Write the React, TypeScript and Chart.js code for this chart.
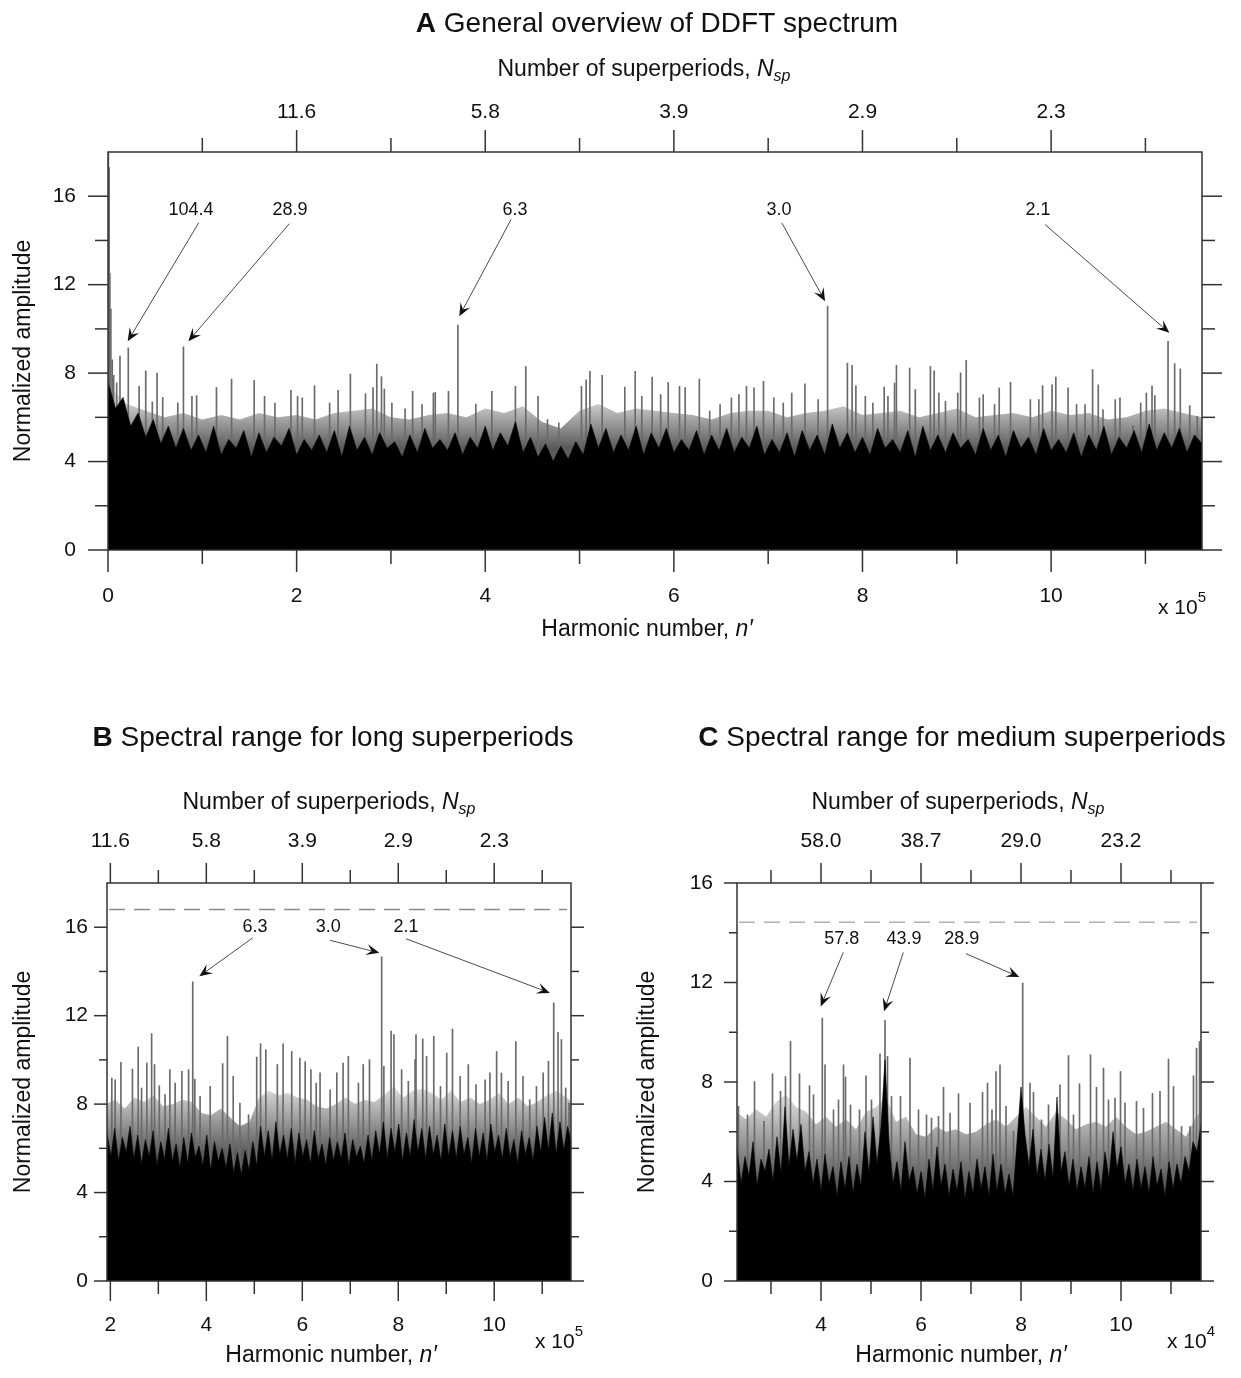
import React, { useEffect, useRef } from 'react';
import { Chart, registerables } from 'chart.js';

Chart.register(...registerables);

const FAM = '"Liberation Sans", Arial, Helvetica, sans-serif';
const fnt = (size: number, style = '', weight = '') => `${style} ${weight} ${size}px ${FAM}`.trim();

// ===================== DATA =====================
// Panel A: harmonic number n' (x 10^5), normalized amplitude
const floorAStart = 0;
const floorAStep = 0.08;
const floorA = [
  7.6, 6.4, 6.9, 5.6, 6.2, 5.1, 5.9, 4.8, 5.6, 4.6,
  5.5, 4.5, 5.2, 4.4, 5.6, 4.3, 5.0, 4.6, 5.4, 4.2,
  5.3, 4.4, 5.1, 4.7, 5.5, 4.3, 5.0, 4.5, 5.2, 4.4,
  5.4, 4.2, 5.6, 4.5, 5.1, 4.3, 5.3, 4.6, 4.9, 4.2,
  5.2, 4.4, 5.5, 4.6, 5.0, 4.5, 5.3, 4.3, 5.1, 4.6,
  5.6, 4.5, 5.3, 4.7, 5.8, 4.4, 5.1, 4.2, 4.8, 4.0,
  4.7, 4.1, 4.9, 4.3, 5.7, 4.6, 5.5, 4.4, 5.2, 4.5,
  5.6, 4.3, 5.3, 4.6, 5.5, 4.4, 5.0, 4.5, 5.4, 4.3,
  5.2, 4.5, 5.5, 4.4, 5.1, 4.6, 5.6, 4.3, 5.0, 4.4,
  5.3, 4.2, 5.4, 4.5, 5.2, 4.3, 5.7, 4.6, 5.3, 4.4,
  5.1, 4.3, 5.5, 4.6, 5.0, 4.4, 5.4, 4.2, 5.6, 4.5,
  5.2, 4.4, 5.3, 4.6, 5.0, 4.3, 5.5, 4.5, 5.2, 4.2,
  5.4, 4.6, 5.1, 4.3, 5.5, 4.5, 5.0, 4.4, 5.3, 4.2,
  5.2, 4.5, 5.6, 4.3, 5.1, 4.6, 5.4, 4.4, 5.7, 4.5,
  5.3, 4.6, 5.5, 4.4, 5.2, 4.8,
];
const hazeAStart = 0;
const hazeAStep = 0.2;
const hazeA = [
  7.4, 6.6, 6.3, 6.0, 6.2, 5.9, 6.1, 5.9, 6.2, 6.0,
  6.1, 5.9, 6.2, 6.3, 6.4, 6.0, 5.9, 6.1, 6.2, 6.0,
  6.4, 6.2, 6.5, 5.8, 5.5, 6.3, 6.6, 6.2, 6.4, 6.3,
  6.2, 6.1, 5.9, 6.2, 6.3, 6.3, 6.0, 6.2, 6.3, 6.5,
  6.1, 6.2, 6.3, 6.0, 6.2, 6.4, 6.0, 6.1, 6.2, 6.0,
  6.3, 6.1, 6.2, 5.9, 6.0, 6.3, 6.4, 6.2, 6.0,
];
const spikesA: [number, number][] = [
  [0.004, 18.5], [0.012, 17.3], [0.02, 12.5], [0.03, 10.9], [0.045, 8.6], [0.06, 7.9],
  [0.092, 7.56], [0.127, 8.77], [0.215, 9.14], [0.33, 7.4], [0.40, 8.1], [0.47, 6.7],
  [0.52, 8.0], [0.58, 6.9], [0.74, 6.65], [0.80, 9.19], [0.89, 6.95], [0.94, 6.98],
  [1.15, 7.35], [1.31, 7.73], [1.55, 7.67], [1.66, 6.95], [1.77, 6.65], [1.94, 7.22],
  [2.01, 6.95], [2.06, 6.88], [2.19, 7.43], [2.35, 6.65], [2.44, 7.22], [2.57, 7.96],
  [2.73, 7.07], [2.81, 7.35], [2.85, 8.41], [2.90, 7.84], [2.93, 7.28], [3.01, 6.65],
  [3.15, 6.38], [3.23, 7.18], [3.33, 6.58], [3.45, 7.1], [3.47, 7.13], [3.61, 7.18],
  [3.71, 10.17], [3.90, 6.6], [4.07, 7.18], [4.32, 7.4], [4.43, 8.3], [4.56, 6.95],
  [4.66, 5.9], [4.78, 5.75], [5.02, 7.4], [5.07, 7.7], [5.11, 8.08], [5.24, 7.9],
  [5.48, 7.37], [5.59, 8.08], [5.66, 6.95], [5.77, 7.82], [5.86, 7.03], [5.94, 7.58],
  [6.06, 7.4], [6.12, 7.35], [6.27, 7.73], [6.38, 6.28], [6.49, 6.58], [6.61, 6.88],
  [6.69, 7.03], [6.77, 7.4], [6.85, 7.33], [6.95, 7.63], [7.06, 6.88], [7.16, 6.65],
  [7.25, 7.1], [7.39, 7.52], [7.53, 6.8], [7.63, 11.03], [7.84, 8.45], [7.89, 8.35],
  [7.93, 7.43], [8.03, 6.95], [8.11, 6.65], [8.23, 7.37], [8.27, 6.95], [8.34, 7.55],
  [8.36, 8.35], [8.50, 8.23], [8.56, 7.26], [8.72, 8.3], [8.76, 8.1], [8.81, 7.1],
  [8.88, 6.73], [9.01, 7.1], [9.04, 8.01], [9.10, 8.58], [9.24, 6.88], [9.28, 7.03],
  [9.40, 6.58], [9.45, 7.33], [9.57, 7.58], [9.78, 6.8], [9.87, 6.8], [9.91, 7.43],
  [10.01, 7.47], [10.05, 7.82], [10.18, 7.33], [10.27, 6.58], [10.36, 6.58], [10.44, 8.16],
  [10.50, 7.47], [10.55, 6.35], [10.68, 6.8], [10.73, 6.88], [10.87, 5.63], [10.95, 6.65],
  [11.01, 7.1], [11.07, 7.43], [11.10, 6.98], [11.24, 9.44], [11.31, 8.43], [11.37, 8.19],
  [11.47, 6.53], [11.55, 6.05],
];
const annLabelsA = ['104.4', '28.9', '6.3', '3.0', '2.1'];

// Panel B: long superperiods (x 10^5)
const floorBStart = 1.93;
const floorBStep = 0.08;
const floorB = [
  6.7, 5.6, 6.9, 5.4, 6.5, 5.8, 7.0, 5.5, 6.6, 5.3,
  6.4, 5.6, 6.8, 5.2, 6.3, 5.5, 6.9, 5.4, 6.2, 5.1,
  6.5, 5.3, 6.7, 5.6, 6.1, 5.2, 6.6, 5.0, 6.3, 5.4,
  6.0, 5.1, 6.2, 4.9, 5.8, 4.8, 5.9, 5.0, 6.3, 5.2,
  7.0, 5.6, 6.8, 5.4, 7.2, 5.7, 6.6, 5.5, 6.9, 5.3,
  6.7, 5.6, 6.4, 5.3, 6.8, 5.5, 6.2, 5.2, 6.5, 5.4,
  6.3, 5.5, 6.7, 5.2, 6.4, 5.6, 6.1, 5.3, 6.6, 5.4,
  6.8, 5.7, 7.2, 5.5, 6.9, 5.8, 7.1, 5.4, 6.7, 5.6,
  7.3, 5.8, 6.9, 5.5, 7.0, 5.7, 6.6, 5.4, 7.1, 5.6,
  6.8, 5.5, 7.0, 5.7, 6.5, 5.3, 6.9, 5.6, 6.7, 5.4,
  7.1, 5.8, 6.6, 5.5, 6.9, 5.6, 6.4, 5.3, 6.8, 5.7,
  6.5, 5.4, 7.0, 5.8, 7.4, 5.9, 7.6, 5.7, 7.2, 5.9,
  7.0, 6.2,
];
const hazeBStart = 1.9;
const hazeBStep = 0.2;
const hazeB = [
  8.0, 8.2, 7.8, 8.3, 8.1, 8.4, 7.9, 8.0, 8.2, 8.1,
  7.6, 7.5, 7.8, 7.4, 7.0, 7.2, 8.3, 8.6, 8.4, 8.5,
  8.3, 8.2, 7.9, 7.8, 8.0, 8.3, 8.0, 8.2, 8.1, 8.4,
  8.8, 8.3, 8.6, 8.7, 8.5, 8.2, 8.6, 8.1, 8.3, 8.0,
  8.2, 8.5, 8.0, 8.3, 7.9, 8.1, 8.4, 8.6, 8.3, 8.0,
];
const spikesB: [number, number][] = [
  [2.03, 9.18], [2.10, 9.1], [2.22, 9.89], [2.46, 9.59], [2.58, 10.58], [2.65, 8.73],
  [2.76, 9.86], [2.86, 11.19], [2.92, 9.79], [3.02, 8.83], [3.14, 8.43], [3.24, 9.56],
  [3.35, 8.95], [3.49, 9.48], [3.63, 9.56], [3.717, 13.53], [3.76, 9.13], [3.87, 8.35],
  [4.08, 8.8], [4.34, 9.83], [4.44, 11.07], [4.56, 9.26], [4.70, 8.05], [4.88, 7.52],
  [5.05, 10.13], [5.13, 10.73], [5.24, 10.46], [5.48, 9.79], [5.60, 10.73], [5.78, 10.38],
  [5.95, 10.08], [6.06, 9.92], [6.18, 9.56], [6.29, 8.95], [6.37, 9.41], [6.58, 8.65],
  [6.72, 9.41], [6.85, 9.86], [6.96, 10.16], [7.17, 8.95], [7.27, 9.79], [7.40, 10.01],
  [7.654, 14.66], [7.70, 9.71], [7.85, 11.3], [7.91, 11.14], [8.07, 9.56], [8.21, 9.03],
  [8.35, 10.01], [8.37, 11.14], [8.51, 10.95], [8.59, 10.16], [8.74, 11.07], [8.88, 8.8],
  [9.01, 10.31], [9.13, 11.4], [9.29, 9.26], [9.46, 9.79], [9.62, 8.88], [9.81, 9.1],
  [9.91, 9.41], [10.05, 10.38], [10.15, 9.41], [10.29, 9.03], [10.45, 10.83], [10.60, 9.26],
  [10.74, 8.2], [10.88, 8.8], [11.02, 9.41], [11.13, 9.94], [11.24, 12.58], [11.33, 11.25],
  [11.40, 10.92], [11.49, 8.73], [11.56, 8.05],
];
const annLabelsB = ['6.3', '3.0', '2.1'];
const thresholdB = 16.8;

// Panel C: medium superperiods (x 10^4)
const floorCStart = 2.32;
const floorCStep = 0.08;
const floorC = [
  5.4, 3.9, 5.0, 4.2, 5.6, 3.8, 4.9, 4.4, 5.3, 4.0,
  5.8, 4.3, 7.0, 4.6, 6.1, 4.8, 6.3, 4.4, 5.2, 3.9,
  4.9, 3.6, 5.1, 3.9, 4.6, 3.4, 4.8, 3.7, 5.0, 3.5,
  4.7, 3.8, 6.0, 4.3, 6.6, 4.7, 6.2, 8.9, 5.6, 3.9,
  4.8, 3.6, 5.6, 4.0, 4.6, 3.5, 4.4, 3.3, 4.9, 3.6,
  5.4, 3.8, 4.7, 3.4, 4.5, 3.6, 4.8, 3.3, 4.4, 3.5,
  4.9, 3.7, 4.6, 3.4, 5.1, 3.6, 4.7, 3.5, 4.3, 3.4,
  5.6, 7.8, 5.9, 4.6, 6.1, 4.2, 5.3, 4.0, 5.5, 4.1,
  7.4, 4.4, 5.2, 3.8, 4.9, 3.6, 4.6, 3.7, 5.0, 3.5,
  4.8, 3.6, 5.2, 4.1, 6.0, 4.5, 5.4, 3.9, 4.7, 3.6,
  4.9, 3.7, 4.6, 3.5, 5.0, 3.8, 4.5, 3.4, 4.8, 3.7,
  4.7, 3.9, 5.0, 4.4, 5.6, 5.2, 6.3,
];
const hazeCStart = 2.3;
const hazeCStep = 0.2;
const hazeC = [
  6.8, 6.5, 6.9, 6.6, 7.2, 7.5, 7.0, 6.8, 6.3, 6.6,
  6.2, 6.5, 6.1, 6.8, 7.0, 7.4, 6.4, 6.6, 5.9, 5.8,
  6.2, 6.0, 6.1, 5.9, 6.0, 6.3, 6.5, 6.2, 6.6, 7.0,
  6.6, 6.2, 6.8, 6.5, 6.1, 6.3, 6.4, 6.2, 6.6, 6.2,
  5.9, 6.0, 6.2, 6.4, 6.1, 5.8, 6.6, 7.0,
];
const spikesC: [number, number][] = [
  [2.35, 7.02], [2.53, 6.68], [2.67, 8.02], [2.86, 6.42], [3.03, 8.33], [3.19, 7.62],
  [3.29, 8.22], [3.39, 9.63], [3.57, 8.33], [3.77, 7.85], [3.85, 7.49], [4.026, 10.57],
  [4.08, 8.69], [4.25, 6.88], [4.35, 7.28], [4.45, 8.69], [4.49, 8.2], [4.59, 7.08],
  [4.77, 6.88], [4.90, 8.25], [5.01, 7.28], [5.18, 9.13], [5.28, 10.48], [5.33, 9.03],
  [5.41, 7.42], [5.59, 7.42], [5.78, 8.96], [5.95, 6.88], [6.11, 6.68], [6.21, 6.55],
  [6.35, 6.62], [6.45, 7.79], [6.58, 6.75], [6.75, 7.53], [6.98, 7.15], [7.23, 7.58],
  [7.33, 7.96], [7.42, 6.88], [7.50, 8.42], [7.58, 8.69], [7.70, 7.02], [7.85, 6.02],
  [8.034, 11.98], [8.18, 7.96], [8.25, 7.58], [8.41, 6.48], [8.55, 7.08], [8.78, 7.89],
  [8.95, 9.06], [9.05, 6.68], [9.17, 7.93], [9.39, 9.1], [9.51, 7.79], [9.65, 8.56],
  [9.75, 7.28], [9.88, 7.35], [9.99, 8.42], [10.08, 7.15], [10.31, 7.22], [10.45, 6.95],
  [10.63, 7.55], [10.78, 7.62], [10.95, 8.92], [11.05, 7.82], [11.21, 6.21], [11.38, 6.21],
  [11.45, 8.25], [11.51, 9.36], [11.57, 9.63],
];
const annLabelsC = ['57.8', '43.9', '28.9'];
const thresholdC = 14.42;

// Tick values and labels
const bottomTicksA = [0, 2, 4, 6, 8, 10];
const bottomTicksB = [2, 4, 6, 8, 10];
const bottomTicksC = [4, 6, 8, 10];
const topTicksAB = [2, 4, 6, 8, 10];
const topLabelsA = ['11.6', '5.8', '3.9', '2.9', '2.3'];
const topLabelsB = ['11.6', '5.8', '3.9', '2.9', '2.3'];
const topTicksC = [4, 6, 8, 10];
const topLabelsC = ['58.0', '38.7', '29.0', '23.2'];
const yTicks = [0, 4, 8, 12, 16];
const yMinor = [2, 6, 10, 14];

// ===================== DRAWING HELPERS =====================
type Run = { t: string; f: string; dy?: number };

function drawRuns(ctx: CanvasRenderingContext2D, runs: Run[], x: number, y: number, align: 'center' | 'left') {
  ctx.textBaseline = 'middle';
  ctx.textAlign = 'left';
  let w = 0;
  runs.forEach((r) => {
    ctx.font = r.f;
    w += ctx.measureText(r.t).width;
  });
  let cx = align === 'center' ? x - w / 2 : x;
  runs.forEach((r) => {
    ctx.font = r.f;
    ctx.fillText(r.t, cx, y + (r.dy || 0));
    cx += ctx.measureText(r.t).width;
  });
}

function drawArrow(ctx: CanvasRenderingContext2D, x1: number, y1: number, x2: number, y2: number) {
  const dx = x2 - x1;
  const dy = y2 - y1;
  const len = Math.hypot(dx, dy);
  const ux = dx / len;
  const uy = dy / len;
  const nx = -uy;
  const ny = ux;
  const L = 13;
  const W = 5.5;
  ctx.strokeStyle = '#4a4a4a';
  ctx.lineWidth = 1;
  ctx.setLineDash([]);
  ctx.beginPath();
  ctx.moveTo(x1, y1);
  ctx.lineTo(x2 - ux * L * 0.6, y2 - uy * L * 0.6);
  ctx.stroke();
  ctx.fillStyle = '#111';
  ctx.beginPath();
  ctx.moveTo(x2, y2);
  ctx.lineTo(x2 - ux * L + nx * W, y2 - uy * L + ny * W);
  ctx.lineTo(x2 - ux * L * 0.6, y2 - uy * L * 0.6);
  ctx.lineTo(x2 - ux * L - nx * W, y2 - uy * L - ny * W);
  ctx.closePath();
  ctx.fill();
}

interface Ann { text: string; lx: number; ly: number; sx: number; sy: number; tx: number; ty: number }

interface PanelCfg {
  left: number; top: number; w: number; h: number;
  area: { l: number; t: number; r: number; b: number };
  xMin: number; xMax: number; yMax: number;
  floor: number[]; floorStart: number; floorStep: number;
  haze: number[]; hazeStart: number; hazeStep: number; hazeGrad: [number, number];
  spikes: [number, number][];
  bottomMajor: number[]; bottomMinor: number[];
  topMajor: number[]; topMinor: number[]; topLabels: string[];
  xTick: [number, number]; yTick: [number, number];
  bottomPad: number; topPad: number; leftPad: number;
  title: [string, string]; titlePos: [number, number];
  topTitlePos: [number, number]; bottomTitlePos: [number, number];
  expPos: [number, number]; exp: string;
  yTitlePos: [number, number];
  dash?: { y: number; color: string };
  anns: Ann[];
}

const TEXT = '#111';

function makePlugin(cfg: PanelCfg) {
  return {
    id: 'panelDecor',
    afterDraw(chart: any) {
      const ctx: CanvasRenderingContext2D = chart.ctx;
      const xs = chart.scales.x;
      const ys = chart.scales.y;
      const { left: L, right: R, top: T, bottom: B } = chart.chartArea;
      ctx.save();

      if (cfg.dash) {
        const py = ys.getPixelForValue(cfg.dash.y);
        ctx.strokeStyle = cfg.dash.color;
        ctx.lineWidth = 1.5;
        ctx.setLineDash([16, 9]);
        ctx.beginPath();
        ctx.moveTo(L + 2, py);
        ctx.lineTo(R - 4, py);
        ctx.stroke();
        ctx.setLineDash([]);
      }

      cfg.anns.forEach((a) => {
        drawArrow(
          ctx,
          xs.getPixelForValue(a.sx), ys.getPixelForValue(a.sy),
          xs.getPixelForValue(a.tx), ys.getPixelForValue(a.ty),
        );
        ctx.fillStyle = TEXT;
        drawRuns(ctx, [{ t: a.text, f: fnt(18) }], xs.getPixelForValue(a.lx), ys.getPixelForValue(a.ly), 'center');
      });

      ctx.strokeStyle = '#333';
      ctx.lineWidth = 1.5;
      ctx.setLineDash([]);
      ctx.strokeRect(L, T, R - L, B - T);

      const seg = (x1: number, y1: number, x2: number, y2: number) => {
        ctx.beginPath();
        ctx.moveTo(x1, y1);
        ctx.lineTo(x2, y2);
        ctx.stroke();
      };
      const [xMaj, xMin] = cfg.xTick;
      const [yMaj, yMin] = cfg.yTick;
      cfg.bottomMajor.forEach((v) => { const p = xs.getPixelForValue(v); seg(p, B, p, B + xMaj); });
      cfg.bottomMinor.forEach((v) => { const p = xs.getPixelForValue(v); seg(p, B, p, B + xMin); });
      cfg.topMajor.forEach((v) => { const p = xs.getPixelForValue(v); seg(p, T, p, T - xMaj); });
      cfg.topMinor.forEach((v) => { const p = xs.getPixelForValue(v); seg(p, T, p, T - xMin); });
      yTicks.forEach((v) => {
        const p = ys.getPixelForValue(v);
        if (v <= cfg.yMax) { seg(L, p, L - yMaj, p); seg(R, p, R + yMaj, p); }
      });
      yMinor.forEach((v) => {
        const p = ys.getPixelForValue(v);
        seg(L, p, L - yMin, p);
        seg(R, p, R + yMin, p);
      });

      ctx.fillStyle = TEXT;
      drawRuns(ctx, [
        { t: cfg.title[0], f: fnt(28, '', 'bold') },
        { t: cfg.title[1], f: fnt(28) },
      ], cfg.titlePos[0], cfg.titlePos[1], 'center');
      drawRuns(ctx, [
        { t: 'Number of superperiods, ', f: fnt(23) },
        { t: 'N', f: fnt(23, 'italic') },
        { t: 'sp', f: fnt(16, 'italic'), dy: 7 },
      ], cfg.topTitlePos[0], cfg.topTitlePos[1], 'center');
      drawRuns(ctx, [
        { t: 'Harmonic number, ', f: fnt(23) },
        { t: 'n\u2032', f: fnt(23, 'italic') },
      ], cfg.bottomTitlePos[0], cfg.bottomTitlePos[1], 'center');
      drawRuns(ctx, [
        { t: 'x 10', f: fnt(21) },
        { t: cfg.exp, f: fnt(15), dy: -10 },
      ], cfg.expPos[0], cfg.expPos[1], 'left');
      ctx.save();
      ctx.translate(cfg.yTitlePos[0], cfg.yTitlePos[1]);
      ctx.rotate(-Math.PI / 2);
      drawRuns(ctx, [{ t: 'Normalized amplitude', f: fnt(23) }], 0, 0, 'center');
      ctx.restore();

      ctx.restore();
    },
  };
}

function buildConfig(cfg: PanelCfg): any {
  const floorPts = cfg.floor.map((v, i) => ({ x: +(cfg.floorStart + i * cfg.floorStep).toFixed(4), y: v }));
  const hazePts = cfg.haze.map((v, i) => ({ x: +(cfg.hazeStart + i * cfg.hazeStep).toFixed(4), y: v }));
  const spikePts = cfg.spikes.map(([x, y]) => ({ x, y }));
  const tickFont = { family: FAM, size: 21 };
  const hazeFill = (c: any) => {
    const chart = c.chart;
    if (!chart.chartArea || !chart.scales.y) return '#999';
    const ys = chart.scales.y;
    const g = chart.ctx.createLinearGradient(0, ys.getPixelForValue(cfg.hazeGrad[1]), 0, ys.getPixelForValue(cfg.hazeGrad[0]));
    g.addColorStop(0, '#d6d6d6');
    g.addColorStop(1, '#5a5a5a');
    return g;
  };
  return {
    type: 'bar',
    data: {
      datasets: [
        {
          type: 'line', data: floorPts, xAxisID: 'x', yAxisID: 'y',
          fill: 'origin', backgroundColor: '#000', borderColor: '#000', borderWidth: 0.6,
          pointRadius: 0, tension: 0, order: 1,
        },
        {
          type: 'bar', data: spikePts, xAxisID: 'x', yAxisID: 'y',
          backgroundColor: '#6a6a6a', borderWidth: 0, barThickness: 1, order: 2,
        },
        {
          type: 'line', data: hazePts, xAxisID: 'x', yAxisID: 'y',
          fill: 'origin', backgroundColor: hazeFill, borderColor: 'rgba(0,0,0,0)', borderWidth: 0,
          pointRadius: 0, tension: 0, order: 3,
        },
      ],
    },
    options: {
      responsive: false,
      animation: false,
      events: [],
      layout: { padding: { left: 0, right: cfg.w - cfg.area.r, top: 0, bottom: 0 } },
      plugins: { legend: { display: false }, tooltip: { enabled: false }, title: { display: false } },
      scales: {
        x: {
          type: 'linear', axis: 'x', position: 'bottom', min: cfg.xMin, max: cfg.xMax, offset: false,
          grid: { display: false, drawTicks: false },
          border: { display: false },
          ticks: {
            font: tickFont, color: TEXT, padding: cfg.bottomPad, maxRotation: 0, autoSkip: false,
            callback: (v: number) => String(v),
          },
          afterBuildTicks: (s: any) => { s.ticks = cfg.bottomMajor.map((v) => ({ value: v })); },
          afterFit: (s: any) => { s.height = cfg.h - cfg.area.b; },
        },
        x2: {
          type: 'linear', axis: 'x', position: 'top', min: cfg.xMin, max: cfg.xMax, offset: false,
          grid: { display: false, drawTicks: false },
          border: { display: false },
          ticks: {
            font: tickFont, color: TEXT, padding: cfg.topPad, maxRotation: 0, autoSkip: false,
            callback: (v: number) => {
              const i = cfg.topMajor.indexOf(v);
              return i >= 0 ? cfg.topLabels[i] : '';
            },
          },
          afterBuildTicks: (s: any) => { s.ticks = cfg.topMajor.map((v) => ({ value: v })); },
          afterFit: (s: any) => { s.height = cfg.area.t; },
        },
        y: {
          type: 'linear', position: 'left', min: 0, max: cfg.yMax,
          grid: { display: false, drawTicks: false },
          border: { display: false },
          ticks: { font: tickFont, color: TEXT, padding: cfg.leftPad, callback: (v: number) => String(v) },
          afterBuildTicks: (s: any) => { s.ticks = yTicks.filter((v) => v <= cfg.yMax).map((v) => ({ value: v })); },
          afterFit: (s: any) => { s.width = cfg.area.l; },
        },
      },
    },
    plugins: [makePlugin(cfg)],
  };
}

// ===================== PANELS =====================
const panelA: PanelCfg = {
  left: 0, top: 0, w: 1241, h: 680,
  area: { l: 108, t: 152, r: 1202, b: 550 },
  xMin: 0, xMax: 11.6, yMax: 18,
  floor: floorA, floorStart: floorAStart, floorStep: floorAStep,
  haze: hazeA, hazeStart: hazeAStart, hazeStep: hazeAStep, hazeGrad: [4.6, 6.8],
  spikes: spikesA,
  bottomMajor: bottomTicksA, bottomMinor: [1, 3, 5, 7, 9, 11],
  topMajor: topTicksAB, topMinor: [1, 3, 5, 7, 9, 11], topLabels: topLabelsA,
  xTick: [22, 14], yTick: [20, 13],
  bottomPad: 34, topPad: 27, leftPad: 32,
  title: ['A', ' General overview of DDFT spectrum'], titlePos: [657, 24],
  topTitlePos: [644, 70], bottomTitlePos: [647, 630],
  expPos: [1158, 608], exp: '5',
  yTitlePos: [24, 351],
  anns: [
    { text: annLabelsA[0], lx: 0.88, ly: 15.36, sx: 0.962, sy: 14.8, tx: 0.209, ty: 9.44 },
    { text: annLabelsA[1], lx: 1.93, ly: 15.36, sx: 1.923, sy: 14.76, tx: 0.852, ty: 9.44 },
    { text: annLabelsA[2], lx: 4.316, ly: 15.36, sx: 4.274, sy: 14.95, tx: 3.725, ty: 10.57 },
    { text: annLabelsA[3], lx: 7.116, ly: 15.36, sx: 7.144, sy: 14.8, tx: 7.603, ty: 11.25 },
    { text: annLabelsA[4], lx: 9.862, ly: 15.36, sx: 9.936, sy: 14.72, tx: 11.254, ty: 9.82 },
  ],
};

const panelB: PanelCfg = {
  left: 0, top: 690, w: 620, h: 688,
  area: { l: 107, t: 193, r: 571, b: 591 },
  xMin: 1.93, xMax: 11.6, yMax: 18,
  floor: floorB, floorStart: floorBStart, floorStep: floorBStep,
  haze: hazeB, hazeStart: hazeBStart, hazeStep: hazeBStep, hazeGrad: [5.8, 8.6],
  spikes: spikesB,
  bottomMajor: bottomTicksB, bottomMinor: [3, 5, 7, 9, 11],
  topMajor: topTicksAB, topMinor: [3, 5, 7, 9, 11], topLabels: topLabelsB,
  xTick: [20, 13], yTick: [13, 8],
  bottomPad: 32, topPad: 29, leftPad: 19,
  title: ['B', ' Spectral range for long superperiods'], titlePos: [333, 48],
  topTitlePos: [329, 113], bottomTitlePos: [331, 666],
  expPos: [535, 652], exp: '5',
  yTitlePos: [24, 392],
  dash: { y: thresholdB, color: '#8a8a8a' },
  anns: [
    { text: annLabelsB[0], lx: 5.015, ly: 16.02, sx: 4.967, sy: 15.52, tx: 3.854, ty: 13.78 },
    { text: annLabelsB[1], lx: 6.542, ly: 16.03, sx: 6.577, sy: 15.41, tx: 7.604, ty: 14.84 },
    { text: annLabelsB[2], lx: 8.16, ly: 16.03, sx: 8.16, sy: 15.48, tx: 11.16, ty: 13.03 },
  ],
};

const panelC: PanelCfg = {
  left: 620, top: 690, w: 621, h: 688,
  area: { l: 117, t: 193, r: 581, b: 591 },
  xMin: 2.32, xMax: 11.6, yMax: 16,
  floor: floorC, floorStart: floorCStart, floorStep: floorCStep,
  haze: hazeC, hazeStart: hazeCStart, hazeStep: hazeCStep, hazeGrad: [4.0, 7.2],
  spikes: spikesC,
  bottomMajor: bottomTicksC, bottomMinor: [3, 5, 7, 9, 11],
  topMajor: topTicksC, topMinor: [3, 5, 7, 9, 11], topLabels: topLabelsC,
  xTick: [20, 13], yTick: [13, 8],
  bottomPad: 32, topPad: 29, leftPad: 24,
  title: ['C', ' Spectral range for medium superperiods'], titlePos: [342, 48],
  topTitlePos: [338, 113], bottomTitlePos: [341, 666],
  expPos: [547, 652], exp: '4',
  yTitlePos: [28, 392],
  dash: { y: thresholdC, color: '#b0b0b0' },
  anns: [
    { text: annLabelsC[0], lx: 4.414, ly: 13.76, sx: 4.446, sy: 13.21, tx: 3.994, ty: 11.04 },
    { text: annLabelsC[1], lx: 5.66, ly: 13.76, sx: 5.646, sy: 13.21, tx: 5.26, ty: 10.84 },
    { text: annLabelsC[2], lx: 6.814, ly: 13.76, sx: 6.9, sy: 13.16, tx: 7.966, ty: 12.22 },
  ],
};

function Panel({ cfg }: { cfg: PanelCfg }) {
  const ref = useRef<HTMLCanvasElement | null>(null);
  useEffect(() => {
    if (!ref.current) return;
    const chart = new Chart(ref.current, buildConfig(cfg));
    return () => chart.destroy();
  }, [cfg]);
  return (
    <canvas
      ref={ref}
      width={cfg.w}
      height={cfg.h}
      style={{ position: 'absolute', left: cfg.left, top: cfg.top, width: cfg.w, height: cfg.h }}
    />
  );
}

export default function App() {
  return (
    <div style={{ position: 'absolute', left: 0, top: 0, width: 1241, height: 1378, background: '#fff' }}>
      <Panel cfg={panelA} />
      <Panel cfg={panelB} />
      <Panel cfg={panelC} />
    </div>
  );
}
